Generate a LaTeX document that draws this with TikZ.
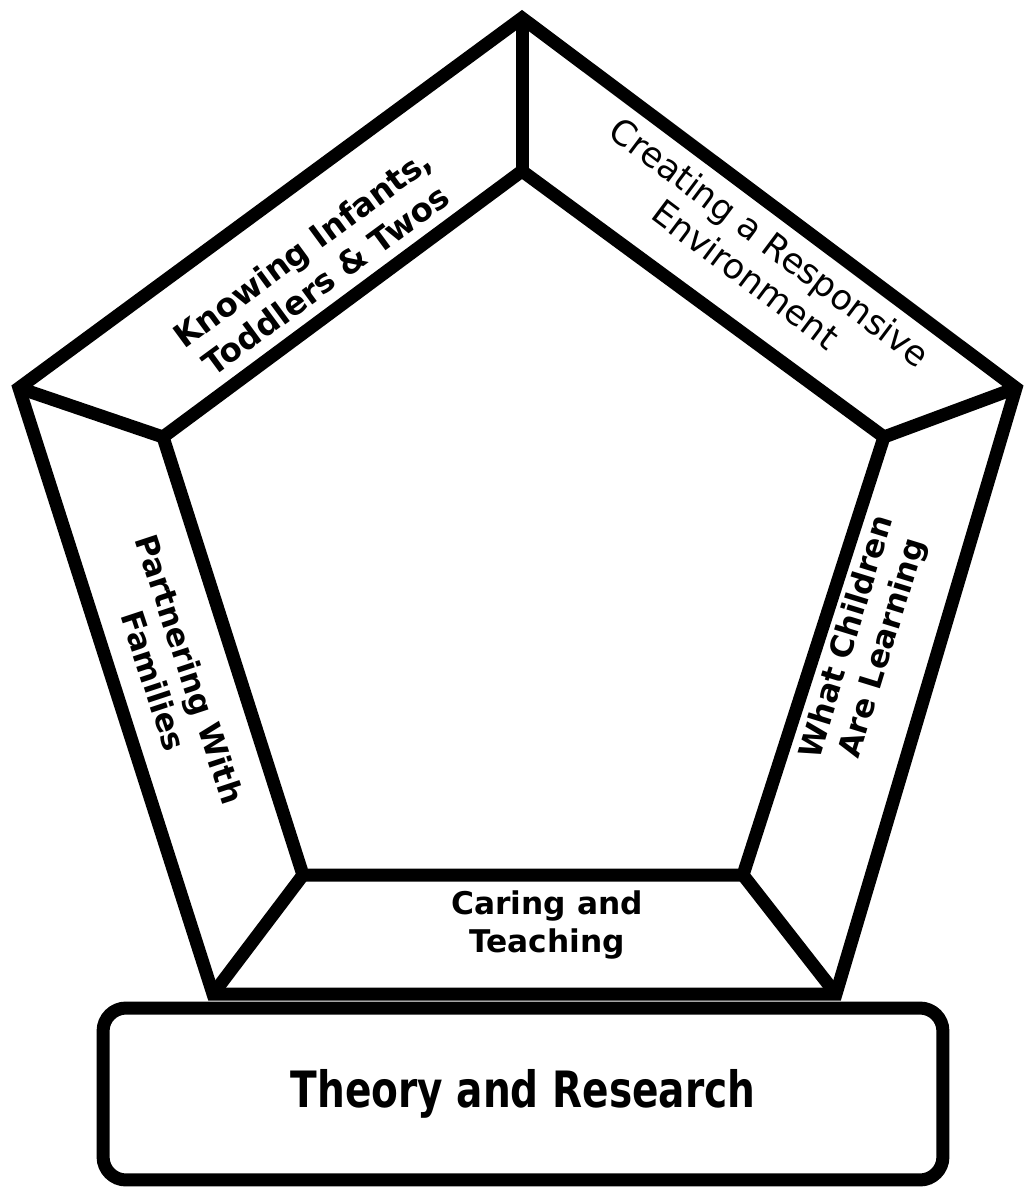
\documentclass[tikz,border=0pt]{standalone}
\usepackage{fontspec}
\setmainfont{DejaVu Sans}
\newfontfamily\narrowfont[FakeStretch=0.78]{DejaVu Sans}

\begin{document}
\begin{tikzpicture}[x=0.02cm, y=-0.02cm,
	    edge/.style={line width=0.26cm},
	    side/.style={align=center, inner sep=0pt, font=\bfseries\fontsize{17.8}{21.5}\selectfont}]
	    \useasboundingbox (0,0) rectangle (1029,1188);
	    % base box
	    \node[edge, draw, rounded corners=0.46cm, minimum width=16.8cm, minimum height=3.44cm,
	        font=\narrowfont\bfseries\fontsize{28.5}{30}\selectfont] (base) at (523,1094) {Theory and Research};
	    % outer corners
	    \coordinate (ot) at (522,18);
	    \coordinate (or) at (1016,388);
	    \coordinate (obr) at (836,994);
	    \coordinate (obl) at (213,994);
	    \coordinate (ol) at (19,388);
	    % inner corners
	    \coordinate (it) at (522,171);
	    \coordinate (ir) at (884,437);
	    \coordinate (ibr) at (743,875);
	    \coordinate (ibl) at (303,875);
	    \coordinate (il) at (163,437);
	    \draw[edge] (ot) -- (or) -- (obr) -- (obl) -- (ol) -- cycle;
	    \draw[edge] (it) -- (ir) -- (ibr) -- (ibl) -- (il) -- cycle;
	    \foreach \c in {t,r,br,bl,l} \draw[edge] (o\c) -- (i\c);
	    % band labels
	    \node[side, font=\bfseries\fontsize{18.5}{22.5}\selectfont, rotate=36.3] (know) at (314,264) {Knowing Infants,\\Toddlers \& Twos};
	    \node[side, font=\fontsize{19.8}{23}\selectfont, rotate=-36.9] (create) at (758,258) {Creating a Responsive\\Environment};
	    \node[side, rotate=-71.7] (partner) at (172,675) {Partnering With\\Families};
	    \node[side, rotate=72.9] (learn) at (866,643) {What Children\\Are Learning};
	    \node[side] (care) at (547,925) {Caring and\\Teaching};
	\end{tikzpicture}
\end{document}
